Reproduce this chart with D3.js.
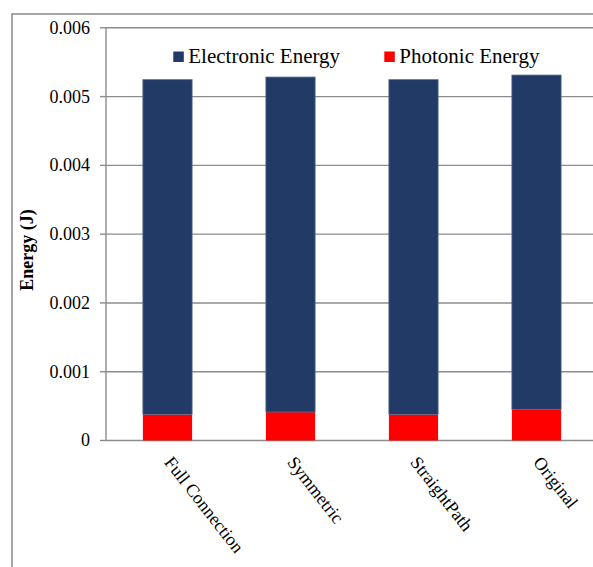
<!DOCTYPE html>
<html><head><meta charset="utf-8">
<script src="https://cdn.jsdelivr.net/npm/d3@7"></script>
</head><body style="margin:0">
<svg id="c" width="593" height="567" font-family="Liberation Serif"></svg>
<script>
const categories = ["Full Connection","Symmetric","StraightPath","Original"];
const photonic = [0.000381, 0.000414, 0.000381, 0.000453];
const electronic = [0.004865, 0.004870, 0.004865, 0.004860];
const seriesNames = ["Electronic Energy","Photonic Energy"];
const seriesColors = ["#213a66","#ff0000"];
const yTicks = [0,0.001,0.002,0.003,0.004,0.005,0.006];

const FONT = "Liberation Serif";
const svg = d3.select("#c");
const pl = 106, pr = 598, pt = 27.8, pb = 440.5;
const x = d3.scaleBand().domain(categories).range([pl,pr]).paddingInner(0.6).paddingOuter(0.3);
const y = d3.scaleLinear().domain([0,0.006]).range([pb,pt]);

svg.append("rect").attr("x",12).attr("y",14).attr("width",700).attr("height",700)
  .attr("fill","none").attr("stroke","#8f8f8f").attr("stroke-width",1.6);

svg.append("g").selectAll("line").data(yTicks.slice(1)).join("line")
  .attr("x1",pl).attr("x2",pr).attr("y1",d=>y(d)).attr("y2",d=>y(d))
  .attr("stroke","#8c8c8c").attr("stroke-width",1.4);

// y axis (manual)
svg.append("line").attr("x1",pl).attr("x2",pl).attr("y1",pt).attr("y2",pb).attr("stroke","#8c8c8c").attr("stroke-width",1.4);
svg.append("g").selectAll("line").data(yTicks).join("line")
  .attr("x1",pl-6).attr("x2",pl).attr("y1",d=>y(d)).attr("y2",d=>y(d))
  .attr("stroke","#8c8c8c").attr("stroke-width",1.4);
svg.append("g").selectAll("text").data(yTicks).join("text")
  .attr("x",pl-16).attr("y",d=>y(d)).attr("dy","0.33em").attr("text-anchor","end")
  .attr("font-size",18).style("font-family",FONT)
  .text(d=>d===0?"0":d3.format(".3f")(d));
svg.append("line").attr("x1",pl).attr("x2",pr).attr("y1",y(0)).attr("y2",y(0))
  .attr("stroke","#8c8c8c").attr("stroke-width",1.4);

const stacked = categories.map((c,i)=>({c, e:electronic[i], p:photonic[i]}));
svg.append("g").selectAll("rect").data(stacked).join("rect")
  .attr("x",d=>x(d.c)).attr("width",x.bandwidth())
  .attr("y",d=>y(d.p)).attr("height",d=>y(0)-y(d.p))
  .attr("fill",seriesColors[1]);
svg.append("g").selectAll("rect").data(stacked).join("rect")
  .attr("x",d=>x(d.c)).attr("width",x.bandwidth())
  .attr("y",d=>y(d.p+d.e)).attr("height",d=>y(d.p)-y(d.p+d.e))
  .attr("fill",seriesColors[0]).attr("stroke","#566a92").attr("stroke-width",0.8);

svg.append("g").selectAll("text").data(categories).join("text")
  .attr("transform",d=>`translate(${x(d)+x.bandwidth()/2-4},${y(0)+22}) rotate(52)`)
  .attr("font-size",18).style("font-family",FONT).text(d=>d);

svg.append("text").attr("transform","translate(33,250) rotate(-90)")
  .attr("text-anchor","middle").attr("font-size",18).attr("font-weight","bold").style("font-family",FONT).text("Energy (J)");

const legX = [173.3, 384.3];
seriesNames.forEach((n,i)=>{
  svg.append("rect").attr("x",legX[i]).attr("y",51.5).attr("width",10.5).attr("height",10.5).attr("fill",seriesColors[i]);
  svg.append("text").attr("x",legX[i]+15).attr("y",63.3).attr("font-size",21).style("font-family",FONT).text(n);
});
</script></body></html>
